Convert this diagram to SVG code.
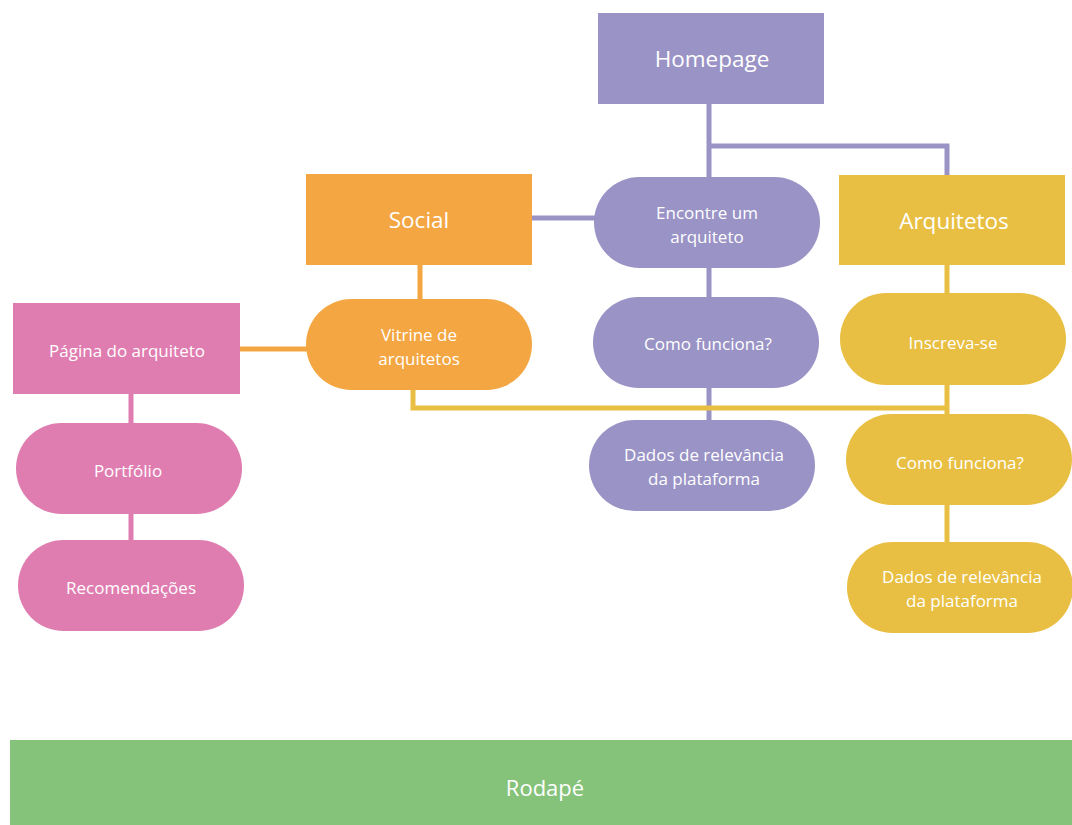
<svg xmlns="http://www.w3.org/2000/svg" width="1072" height="825" viewBox="0 0 1072 825">
<style>
.t{font-family:"Open Sans","Liberation Sans",sans-serif;fill:#fff;text-anchor:middle}
.big{font-size:22.5px}
.sm{font-size:17px}
.pu{fill:#9a93c6}.or{fill:#f4a642}.ye{fill:#e8bf42}.pk{fill:#e07db0}.gr{fill:#85c37a}
.c{fill:none;stroke-width:5}
</style>
<rect width="1072" height="825" fill="#fff"/>
<g id="connectors">
<path class="c" stroke="#9a93c6" d="M709 104V178M709 146H947V176M532 218H596M709 267V298M709 387V421"/>
<path class="c" stroke="#f4a642" d="M420 265V300M239 349H308"/>
<path class="c" stroke="#e07db0" d="M131 393V424M131 513V541"/>
<path class="c" stroke="#e8bf42" d="M947 264V294M947 384V415M947 504V543M413 389V408H947"/>
</g>
<g id="homepage"><rect class="pu" x="598" y="13" width="226" height="91"/><text class="t big" x="712" y="67">Homepage</text></g>
<g id="social"><rect class="or" x="306" y="174" width="226" height="91"/><text class="t big" x="419" y="228">Social</text></g>
<g id="encontre"><rect class="pu" x="594" y="177" width="226" height="91" rx="45.5"/><text class="t sm" x="707" y="219">Encontre um</text><text class="t sm" x="707" y="243">arquiteto</text></g>
<g id="arquitetos"><rect class="ye" x="839" y="175" width="226" height="90"/><text class="t big" x="954" y="229">Arquitetos</text></g>
<g id="vitrine"><rect class="or" x="306" y="299" width="226" height="91" rx="45.5"/><text class="t sm" x="419" y="341">Vitrine de</text><text class="t sm" x="419" y="365">arquitetos</text></g>
<g id="pagina"><rect class="pk" x="13" y="303" width="227" height="91"/><text class="t sm" x="127" y="357">Página do arquiteto</text></g>
<g id="portfolio"><rect class="pk" x="16" y="423" width="226" height="91" rx="45.5"/><text class="t sm" x="128" y="477">Portfólio</text></g>
<g id="recomendacoes"><rect class="pk" x="18" y="540" width="226" height="91" rx="45.5"/><text class="t sm" x="131" y="594">Recomendações</text></g>
<g id="como-pu"><rect class="pu" x="593" y="297" width="226" height="91" rx="45.5"/><text class="t sm" x="708" y="350">Como funciona?</text></g>
<g id="dados-pu"><rect class="pu" x="589" y="420" width="226" height="91" rx="45.5"/><text class="t sm" x="704" y="461">Dados de relevância</text><text class="t sm" x="704" y="485">da plataforma</text></g>
<g id="inscreva"><rect class="ye" x="840" y="293" width="226" height="92" rx="46"/><text class="t sm" x="953" y="349">Inscreva-se</text></g>
<g id="como-ye"><rect class="ye" x="846" y="414" width="226" height="91" rx="45.5"/><text class="t sm" x="960" y="469">Como funciona?</text></g>
<g id="dados-ye"><rect class="ye" x="847" y="542" width="226" height="91" rx="45.5"/><text class="t sm" x="962" y="583">Dados de relevância</text><text class="t sm" x="962" y="607">da plataforma</text></g>
<g id="rodape"><rect class="gr" x="10" y="740" width="1062" height="85"/><text class="t" style="font-size:22px" x="545" y="796">Rodapé</text></g>
</svg>
